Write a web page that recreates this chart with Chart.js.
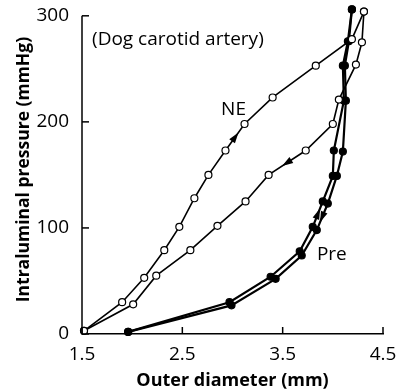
<!DOCTYPE html>
<html>
<head>
<meta charset="utf-8">
<script src="https://cdn.jsdelivr.net/npm/chart.js@4/dist/chart.umd.min.js"></script>
<style>
  html, body { margin: 0; padding: 0; background: #fff; }
  #wrap { width: 404px; height: 392px; }
</style>
</head>
<body>
<div id="wrap"><canvas id="loopChart" width="404" height="392"></canvas></div>
<script>
// outer diameter (mm) and pressure (mmHg), inflation then deflation
const neUpDiam = [1.52, 1.90, 2.12, 2.32, 2.47, 2.62, 2.76, 2.93, 3.12, 3.40, 3.83, 4.19, 4.31];
const neUpPress = [3, 30, 53, 79, 101, 128, 150, 173, 198, 223, 253, 278, 304];
const neDownDiam = [4.31, 4.29, 4.23, 4.06, 4.00, 3.73, 3.36, 3.13, 2.85, 2.58, 2.24, 2.01, 1.52];
const neDownPress = [304, 275, 254, 221, 198, 173, 150, 125, 102, 79, 55, 28, 3];

const preUpDiam = [1.96, 2.97, 3.38, 3.67, 3.80, 3.90, 4.00, 4.01, 4.11, 4.10, 4.15, 4.19];
const preUpPress = [2, 30, 54, 78, 101, 125, 149, 173, 220, 253, 276, 306];
const preDownDiam = [4.19, 4.16, 4.12, 4.13, 4.10, 4.04, 3.95, 3.84, 3.69, 3.43, 2.99, 1.96];
const preDownPress = [306, 276, 253, 220, 172, 149, 123, 98, 74, 52, 27, 2];

const xTicks = [1.5, 2.5, 3.5, 4.5];
const yTicks = [0, 100, 200, 300];
const yTop = 300; // axis line stops here, scale runs a bit higher so top points show

const notes = [
  { text: '(Dog carotid artery)', x: 1.6, y: 278, align: 'left' },
  { text: 'NE', x: 3.01, y: 212, align: 'center' },
  { text: 'Pre', x: 3.99, y: 75, align: 'center' }
];

const FONT = '"Open Sans", "Noto Sans", sans-serif';

function pts(xs, ys) {
  return xs.map((x, i) => ({ x: x, y: ys[i] }));
}

function series(xs, ys, filled, arrowAt, width) {
  return {
    data: pts(xs, ys),
    showLine: true,
    clip: false,
    borderColor: '#000',
    borderWidth: width,
    pointRadius: 3.5,
    pointBorderWidth: 1.2,
    pointBorderColor: '#000',
    pointBackgroundColor: filled ? '#000' : '#fff',
    arrowAt: arrowAt
  };
}

// y axis line up to 300 plus small inward tick marks on both axes
const axisMarks = {
  id: 'axisMarks',
  afterDraw(chart) {
    const c = chart.ctx, xs = chart.scales.x, ys = chart.scales.y;
    const area = chart.chartArea;
    c.save();
    c.strokeStyle = '#000';
    c.lineWidth = 1.5;
    c.beginPath();
    c.moveTo(area.left, area.bottom);
    c.lineTo(area.left, ys.getPixelForValue(yTop));
    c.stroke();
    xTicks.forEach(v => {
      const px = xs.getPixelForValue(v);
      c.beginPath(); c.moveTo(px, area.bottom); c.lineTo(px, area.bottom - 7); c.stroke();
    });
    yTicks.forEach(v => {
      const py = ys.getPixelForValue(v);
      c.beginPath(); c.moveTo(area.left, py); c.lineTo(area.left + 7, py); c.stroke();
    });
    c.restore();
  }
};

// direction arrows on a segment of each loop branch
const arrows = {
  id: 'arrows',
  afterDatasetsDraw(chart) {
    const c = chart.ctx, xs = chart.scales.x, ys = chart.scales.y;
    chart.data.datasets.forEach(ds => {
      if (ds.arrowAt == null) return;
      const a = ds.data[ds.arrowAt], b = ds.data[ds.arrowAt + 1];
      const x1 = xs.getPixelForValue(a.x), y1 = ys.getPixelForValue(a.y);
      const x2 = xs.getPixelForValue(b.x), y2 = ys.getPixelForValue(b.y);
      const ang = Math.atan2(y2 - y1, x2 - x1);
      const mx = (x1 + x2) / 2, my = (y1 + y2) / 2;
      c.save();
      c.translate(mx, my);
      c.rotate(ang);
      c.fillStyle = '#000';
      c.beginPath();
      c.moveTo(6, 0);
      c.lineTo(-5, -3.5);
      c.lineTo(-5, 3.5);
      c.closePath();
      c.fill();
      c.restore();
    });
  }
};

const notesPlugin = {
  id: 'notes',
  afterDraw(chart) {
    const c = chart.ctx, xs = chart.scales.x, ys = chart.scales.y;
    c.save();
    c.fillStyle = '#000';
    c.font = '19px ' + FONT;
    c.textBaseline = 'middle';
    notes.forEach(n => {
      c.textAlign = n.align;
      c.fillText(n.text, xs.getPixelForValue(n.x), ys.getPixelForValue(n.y));
    });
    c.restore();
  }
};

new Chart(document.getElementById('loopChart'), {
  type: 'scatter',
  data: {
    datasets: [
      series(neUpDiam, neUpPress, false, 7, 1.6),
      series(neDownDiam, neDownPress, false, 5, 1.6),
      series(preUpDiam, preUpPress, true, 4, 2.2),
      series(preDownDiam, preDownPress, true, 6, 2.2)
    ]
  },
  options: {
    responsive: false,
    animation: false,
    layout: { padding: { top: 4, right: 21, left: 14, bottom: 0 } },
    plugins: { legend: { display: false }, tooltip: { enabled: false } },
    scales: {
      x: {
        type: 'linear', min: 1.5, max: 4.5,
        afterBuildTicks: s => { s.ticks = xTicks.map(v => ({ value: v })); },
        afterFit: s => { s.height = 58; },
        grid: { display: false },
        border: { display: true, color: '#000', width: 1.5 },
        ticks: { color: '#000', padding: 1, font: { family: FONT, size: 19 }, callback: v => v.toFixed(1) },
        title: { display: true, text: 'Outer diameter (mm)', color: '#000', padding: { top: 0, bottom: 0 }, font: { family: FONT, size: 18, weight: 'bold' } }
      },
      y: {
        type: 'linear', min: 0, max: 310,
        afterBuildTicks: s => { s.ticks = yTicks.map(v => ({ value: v })); },
        afterFit: s => { s.width = 68; s.paddingTop = 0; s.paddingBottom = 0; },
        grid: { display: false },
        border: { display: false },
        ticks: { color: '#000', padding: 5, font: { family: FONT, size: 19 } },
        title: { display: true, text: 'Intraluminal pressure (mmHg)', color: '#000', padding: { top: 0, bottom: 0 }, font: { family: FONT, size: 17.5, weight: 'bold' } }
      }
    }
  },
  plugins: [axisMarks, arrows, notesPlugin]
});
</script>
</body>
</html>
